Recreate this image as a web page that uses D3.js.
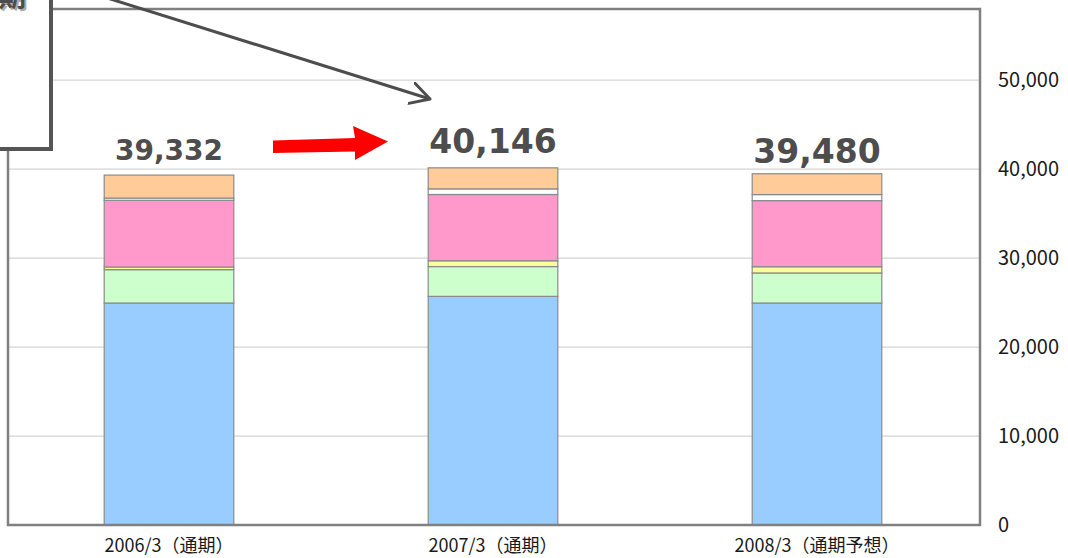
<!DOCTYPE html>
<html>
<head>
<meta charset="utf-8">
<script src="https://cdn.jsdelivr.net/npm/d3@7"></script>
<style>
  body { margin: 0; background: #fff; }
  svg { display: block; }
</style>
</head>
<body>
<svg id="chart" width="1068" height="558"></svg>
<script>
// data
var categories = ["2006/3（通期）", "2007/3（通期）", "2008/3（通期予想）"];
var totals = [39332, 40146, 39480];
var seriesBlue = [24950, 25700, 24950];
var seriesGreen = [3750, 3350, 3380];
var seriesYellow = [300, 650, 700];
var seriesPink = [7500, 7450, 7430];
var seriesWhite = [250, 630, 680];
var seriesOrange = [2582, 2366, 2340];
var yTicks = [0, 10000, 20000, 30000, 40000, 50000];

var keys = ["blue", "green", "yellow", "pink", "white", "orange"];
var colors = {
  blue: "#99ccff", green: "#ccffcc", yellow: "#ffff99",
  pink: "#ff99cc", white: "#ffffff", orange: "#ffcc99"
};

// total labels are separate text boxes in the original, sizes differ
var labelSize = [28, 33, 33];
var labelGap = [15, 14.5, 10.5];

var table = categories.map(function(c, i) {
  return {
    cat: c,
    blue: seriesBlue[i],
    green: seriesGreen[i],
    yellow: seriesYellow[i],
    pink: seriesPink[i],
    white: seriesWhite[i],
    orange: seriesOrange[i]
  };
});

var svg = d3.select("#chart");

var plot = { left: 8, right: 980, top: 9, bottom: 525 };

var x = d3.scaleBand()
  .domain(categories)
  .range([7, 979])
  .paddingInner(0.6)
  .paddingOuter(0.3);

var y = d3.scaleLinear()
  .domain([0, 58000])
  .range([plot.bottom, plot.top]);

// gridlines
svg.append("g")
  .selectAll("line")
  .data(yTicks.slice(1))
  .enter().append("line")
  .attr("x1", plot.left)
  .attr("x2", plot.right)
  .attr("y1", function(d) { return y(d); })
  .attr("y2", function(d) { return y(d); })
  .attr("stroke", "#d4d4d4")
  .attr("stroke-width", 1.2);

// stacked bars
var stacked = d3.stack().keys(keys)(table);

svg.append("g")
  .selectAll("g")
  .data(stacked)
  .enter().append("g")
  .attr("fill", function(d) { return colors[d.key]; })
  .selectAll("rect")
  .data(function(d) { return d; })
  .enter().append("rect")
  .attr("x", function(d) { return x(d.data.cat); })
  .attr("width", x.bandwidth())
  .attr("y", function(d) { return y(d[1]); })
  .attr("height", function(d) { return y(d[0]) - y(d[1]); })
  .attr("stroke", "#8a8a8a")
  .attr("stroke-width", 1.2);

// plot frame
svg.append("rect")
  .attr("x", plot.left)
  .attr("y", plot.top)
  .attr("width", plot.right - plot.left)
  .attr("height", plot.bottom - plot.top)
  .attr("fill", "none")
  .attr("stroke", "#808080")
  .attr("stroke-width", 2.5);

// right axis
var yAxis = d3.axisRight(y)
  .tickValues(yTicks)
  .tickSize(0)
  .tickPadding(18)
  .tickFormat(d3.format(","));

svg.append("g")
  .attr("transform", "translate(" + plot.right + ",0)")
  .call(yAxis)
  .call(function(g) { g.select(".domain").remove(); })
  .selectAll("text")
  .attr("font-family", "'Noto Sans CJK JP', 'Noto Sans', sans-serif")
  .attr("font-size", 20)
  .attr("fill", "#1a1a1a");

// category axis
var xAxis = d3.axisBottom(x).tickSize(0).tickPadding(14);
svg.append("g")
  .attr("transform", "translate(0," + plot.bottom + ")")
  .call(xAxis)
  .call(function(g) { g.select(".domain").remove(); })
  .selectAll("text")
  .attr("font-family", "'Noto Sans CJK JP', sans-serif")
  .attr("font-size", 18)
  .attr("fill", "#1a1a1a");

// totals
svg.append("g")
  .selectAll("text")
  .data(totals)
  .enter().append("text")
  .attr("x", function(d, i) { return x(categories[i]) + x.bandwidth() / 2; })
  .attr("y", function(d, i) { return y(d) - labelGap[i]; })
  .attr("text-anchor", "middle")
  .attr("font-family", "'DejaVu Sans', sans-serif")
  .attr("font-weight", "bold")
  .attr("font-size", function(d, i) { return labelSize[i]; })
  .attr("fill", "#4d4d4d")
  .text(d3.format(","));

// red arrow between first two totals
svg.append("polygon")
  .attr("points", "273,140.5 355,138 353,126 388,141.5 355,160 355,151.5 273,153")
  .attr("fill", "#ff0000");

// callout box, cut off at the top-left
svg.append("rect")
  .attr("x", -20)
  .attr("y", -30)
  .attr("width", 71)
  .attr("height", 179)
  .attr("fill", "#fff")
  .attr("stroke", "#555")
  .attr("stroke-width", 4);

svg.append("text")
  .attr("x", 28)
  .attr("y", 9)
  .attr("text-anchor", "end")
  .attr("font-family", "'Noto Sans CJK JP', sans-serif")
  .attr("font-weight", "bold")
  .attr("font-size", 28)
  .attr("fill", "#aaa")
  .text("通期");
svg.append("text")
  .attr("x", 26)
  .attr("y", 7)
  .attr("text-anchor", "end")
  .attr("font-family", "'Noto Sans CJK JP', sans-serif")
  .attr("font-weight", "bold")
  .attr("font-size", 28)
  .attr("fill", "#4d4d4d")
  .text("通期");

// pointer arrow from the callout
var defs = svg.append("defs");
defs.append("marker")
  .attr("id", "open")
  .attr("viewBox", "0 0 24 24")
  .attr("refX", 20)
  .attr("refY", 12)
  .attr("markerWidth", 24)
  .attr("markerHeight", 24)
  .attr("markerUnits", "userSpaceOnUse")
  .attr("orient", "auto")
  .append("path")
  .attr("d", "M1,1.5 L20,12 L1,22.5")
  .attr("fill", "none")
  .attr("stroke", "#4d4d4d")
  .attr("stroke-width", 3)
  .attr("stroke-linecap", "round")
  .attr("stroke-linejoin", "round");

svg.append("line")
  .attr("x1", 104)
  .attr("y1", -3)
  .attr("x2", 430)
  .attr("y2", 99)
  .attr("stroke", "#4d4d4d")
  .attr("stroke-width", 3)
  .attr("marker-end", "url(#open)");
</script>
</body>
</html>
